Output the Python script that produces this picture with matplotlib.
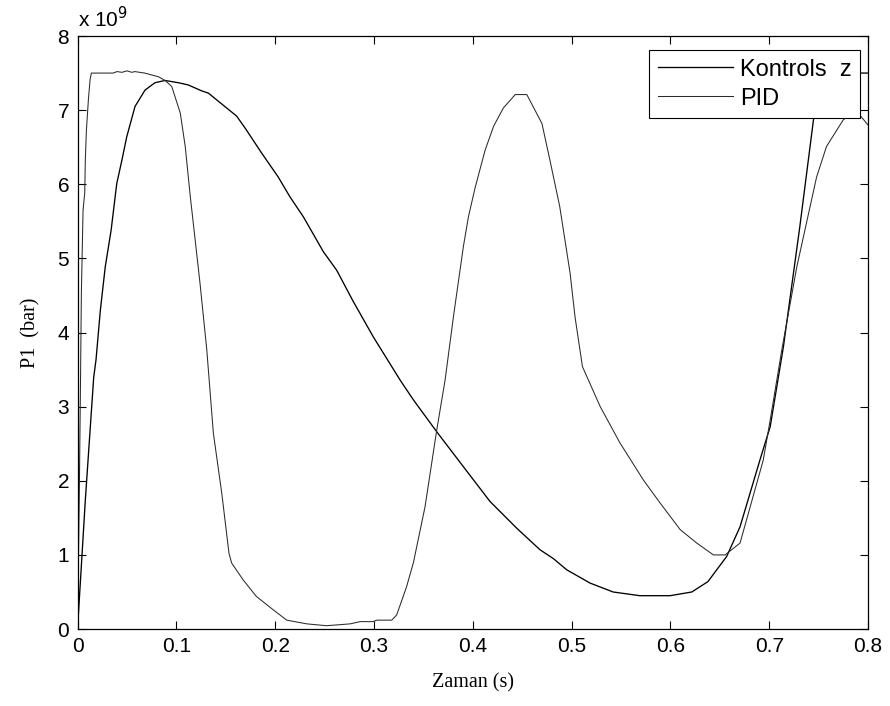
import numpy as np
import matplotlib
matplotlib.use("Agg")
import matplotlib.pyplot as plt

# time (s) and pressure in units of 1e9 bar
t_pid = [0, 0.001, 0.0018, 0.0029, 0.0039, 0.0056, 0.0073, 0.0079, 0.009, 0.011,
         0.0127, 0.014, 0.036, 0.04, 0.045, 0.05, 0.055, 0.058, 0.068, 0.082,
         0.0886, 0.0953, 0.0987, 0.104, 0.109, 0.114, 0.124, 0.1308, 0.1375, 0.146,
         0.1533, 0.156, 0.1678, 0.181, 0.198, 0.2117, 0.232, 0.252, 0.276, 0.286,
         0.299, 0.303, 0.318, 0.323, 0.333, 0.340, 0.3517, 0.3636, 0.372, 0.3804,
         0.3905, 0.3956, 0.4023, 0.4125, 0.421, 0.431, 0.443, 0.4547, 0.470, 0.478,
         0.488, 0.4985, 0.5035, 0.511, 0.529, 0.549, 0.5727, 0.5896, 0.610, 0.6267,
         0.6435, 0.6554, 0.6705, 0.694, 0.701, 0.7128, 0.728, 0.748, 0.758, 0.775,
         0.7875, 0.8]
p_pid = [0, 1.0, 1.83, 3.18, 4.53, 5.65, 5.88, 6.33, 6.73, 7.14,
         7.41, 7.5, 7.5, 7.52, 7.51, 7.53, 7.51, 7.52, 7.5, 7.45,
         7.40, 7.32, 7.18, 6.96, 6.51, 5.85, 4.66, 3.77, 2.64, 1.83,
         1.02, 0.89, 0.66, 0.44, 0.26, 0.12, 0.07, 0.045, 0.07, 0.10,
         0.10, 0.12, 0.12, 0.19, 0.57, 0.9, 1.65, 2.69, 3.36, 4.21,
         5.16, 5.56, 5.95, 6.46, 6.78, 7.03, 7.21, 7.21, 6.82, 6.33,
         5.70, 4.80, 4.21, 3.54, 3.0, 2.51, 2.01, 1.70, 1.34, 1.16,
         1.0, 1.0, 1.16, 2.28, 2.82, 3.77, 4.89, 6.10, 6.51, 6.87,
         7.0, 6.8]

t_kont = [0, 0.0079, 0.0164, 0.0187, 0.0231, 0.0281, 0.034, 0.0397, 0.045, 0.0498,
          0.0582, 0.0683, 0.0784, 0.0886, 0.102, 0.112, 0.1257, 0.1324, 0.149, 0.161,
          0.1695, 0.1864, 0.203, 0.215, 0.2286, 0.2488, 0.2623, 0.279, 0.2994, 0.3264,
          0.34, 0.3636, 0.3905, 0.4175, 0.4445, 0.468, 0.4816, 0.495, 0.5187, 0.542,
          0.569, 0.5997, 0.6217, 0.638, 0.657, 0.6705, 0.6906, 0.701, 0.7144, 0.731,
          0.745, 0.752, 0.758, 0.8]
p_kont = [0, 1.74, 3.40, 3.63, 4.30, 4.89, 5.38, 6.01, 6.33, 6.64,
          7.05, 7.27, 7.37, 7.40, 7.37, 7.34, 7.26, 7.23, 7.05, 6.92,
          6.76, 6.42, 6.10, 5.83, 5.56, 5.09, 4.84, 4.42, 3.94, 3.36,
          3.09, 2.66, 2.19, 1.72, 1.36, 1.07, 0.95, 0.80, 0.62, 0.50,
          0.45, 0.45, 0.50, 0.64, 0.98, 1.38, 2.28, 2.73, 3.81, 5.43,
          6.89, 7.35, 7.5, 7.5]

labels = ["Kontrols  z", "PID"]
xticks = [0, 0.1, 0.2, 0.3, 0.4, 0.5, 0.6, 0.7, 0.8]
yticks = [0, 1, 2, 3, 4, 5, 6, 7, 8]

sans = ["Liberation Sans", "DejaVu Sans"]
serif = ["Liberation Serif", "DejaVu Serif"]
plt.rcParams['font.family'] = sans

fig = plt.figure(figsize=(8.9, 7.06), dpi=100)
ax = fig.add_axes([0.0871, 0.109, 0.8882, 0.840])

ax.plot(t_kont, p_kont, color="black", lw=0.95, label=labels[0])
ax.plot(t_pid, p_pid, color="#2a2a2a", lw=0.75, label=labels[1])

ax.set_xlim(0, 0.8)
ax.set_ylim(0, 8)
ax.set_xticks(xticks)
ax.set_xticklabels([f"{v:g}" for v in xticks])
ax.set_yticks(yticks)
ax.tick_params(direction="in", length=6, width=0.8, top=True, right=True,
               labelsize=15, pad=6)
for s in ax.spines.values():
    s.set_linewidth(0.9)

ax.set_xlabel("Zaman (s)", family=serif, fontsize=14.5, labelpad=12)
ax.set_ylabel("P1  (bar)", family=serif, fontsize=14.5, labelpad=12)
ax.text(0.0, 1.008, r"x 10$^9$", transform=ax.transAxes, fontsize=15,
        ha="left", va="bottom")

leg = ax.legend(loc="upper right", bbox_to_anchor=(0.99, 0.976), fontsize=17,
                handlelength=3.2, handletextpad=0.3, borderpad=0.35,
                labelspacing=0.3, fancybox=False, framealpha=1,
                edgecolor="black", borderaxespad=0)
leg.get_frame().set_linewidth(0.8)

fig.savefig("out.png", dpi=100)
